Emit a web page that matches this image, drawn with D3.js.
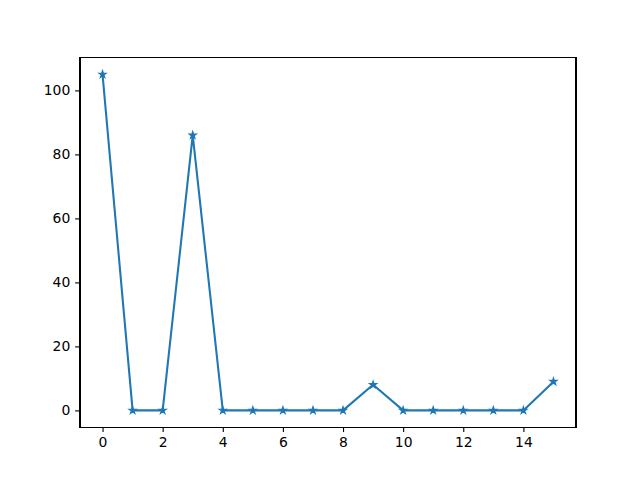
<!DOCTYPE html>
<html><head><meta charset="utf-8">
<script src="https://cdn.jsdelivr.net/npm/d3@7"></script>
<style>body{margin:0;background:#fff}svg{display:block}text{font-family:"DejaVu Sans",sans-serif;font-size:13.9px;fill:#000}</style>
</head><body><svg id="c" width="640" height="480"></svg>
<script>
const xValues = [0,1,2,3,4,5,6,7,8,9,10,11,12,13,14,15];
const yValues = [105,0,0,86,0,0,0,0,0,8,0,0,0,0,0,9];
const xTicks = [0,2,4,6,8,10,12,14];
const yTicks = [0,20,40,60,80,100];

const W=640,H=480;
const L=80,R=576,T=57.6,B=427.2;
const svg=d3.select("#c");
const xmin=d3.min(xValues),xmax=d3.max(xValues),ymin=d3.min(yValues),ymax=d3.max(yValues);
const xm=(xmax-xmin)*0.05, ym=(ymax-ymin)*0.05;
const x=d3.scaleLinear().domain([xmin-xm,xmax+xm]).range([L,R]);
const y=d3.scaleLinear().domain([ymin-ym,ymax+ym]).range([B,T]);
const color="#1f77b4";
const tickLen=4.86, pad=4.86;

const gx=svg.append("g").attr("transform",`translate(0,${B})`)
 .call(d3.axisBottom(x).tickValues(xTicks).tickSize(tickLen).tickPadding(pad).tickFormat(d3.format("d")));
const gy=svg.append("g").attr("transform",`translate(${L},0)`)
 .call(d3.axisLeft(y).tickValues(yTicks).tickSize(tickLen).tickPadding(pad).tickFormat(d3.format("d")));
[gx,gy].forEach(g=>{g.select(".domain").remove();g.selectAll(".tick line").attr("stroke","#000").attr("stroke-width",1.11);
 g.selectAll("text").style("font-family","DejaVu Sans").style("font-size","13.9px").attr("fill","#000");});

const line=d3.line().x((d,i)=>x(xValues[i])).y(d=>y(d));
svg.append("path").datum(yValues).attr("d",line).attr("fill","none").attr("stroke",color).attr("stroke-width",2.08).attr("stroke-linejoin","round").attr("stroke-linecap","square");

function starPath(r){
  const ri=r*0.381966; let p=[];
  for(let k=0;k<10;k++){const a=-Math.PI/2+k*Math.PI/5;const rr=k%2?ri:r;p.push([rr*Math.cos(a),rr*Math.sin(a)]);}
  return "M"+p.map(q=>q[0].toFixed(2)+","+q[1].toFixed(2)).join("L")+"Z";
}
svg.append("g").selectAll("path").data(yValues).join("path")
 .attr("transform",(d,i)=>`translate(${x(xValues[i])},${y(d)})`)
 .attr("d",starPath(3.7)).attr("fill",color).attr("stroke",color).attr("stroke-width",1.2).attr("stroke-linejoin","miter");

svg.append("rect").attr("x",L).attr("y",T).attr("width",R-L).attr("height",B-T).attr("fill","none").attr("stroke","#000").attr("stroke-width",1.11).attr("shape-rendering","crispEdges");
</script></body></html>
